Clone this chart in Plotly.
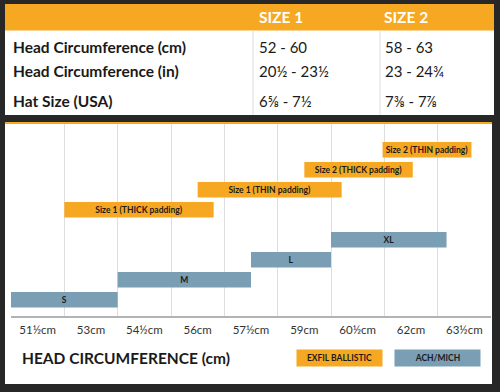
import plotly.graph_objects as go

# ---------------- data ----------------
table_rows = ["Head Circumference (cm)", "Head Circumference (in)", "Hat Size (USA)"]
table_headers = ["SIZE 1", "SIZE 2"]
size1_vals = ["52 - 60", "20½ - 23½", "6⅝ - 7½"]
size2_vals = ["58 - 63", "23 - 24¾", "7⅜ - 7⅞"]

tick_vals = [51.5, 53, 54.5, 56, 57.5, 59, 60.5, 62, 63.5]
tick_labels = ["51½cm", "53cm", "54½cm", "56cm", "57½cm", "59cm", "60½cm", "62cm", "63½cm"]

ach_labels = ["S", "M", "L", "XL"]
ach_start = [50.75, 53.75, 57.5, 59.75]
ach_end = [53.75, 57.5, 59.75, 63.0]

exfil_labels = ["Size 1 (THICK padding)", "Size 1 (THIN padding)",
                "Size 2 (THICK padding)", "Size 2 (THIN padding)"]
exfil_start = [52.25, 56.0, 59.0, 61.2]
exfil_end = [56.45, 60.05, 62.05, 63.7]

# ---------------- style ----------------
W, H = 500, 392
BG = "#272727"
ORANGE = "#F6A823"
BLUE = "#7A9EB4"
TXT = "#1a1a1a"
FONT = "Lato"

def px(x):
    return x / W

def py(y):
    return 1 - y / H

ach_rows = [i for i in range(len(ach_labels))]
exfil_rows = [len(ach_labels) + 0.5 + i for i in range(len(exfil_labels))]

fig = go.Figure()

bar_font = dict(family=FONT, size=8.5, color=TXT, weight="bold")

fig.add_trace(go.Bar(
    orientation="h",
    y=ach_rows,
    base=ach_start,
    x=[e - s for s, e in zip(ach_start, ach_end)],
    text=ach_labels,
    textposition="inside",
    insidetextanchor="middle",
    constraintext="none",
    textangle=0,
    textfont=bar_font,
    marker=dict(color=BLUE, line=dict(width=0)),
    width=0.78,
    name="ACH/MICH",
    hoverinfo="skip",
))
fig.add_trace(go.Bar(
    orientation="h",
    y=exfil_rows,
    base=exfil_start,
    x=[e - s for s, e in zip(exfil_start, exfil_end)],
    text=exfil_labels,
    textposition="inside",
    insidetextanchor="middle",
    constraintext="none",
    textangle=0,
    textfont=bar_font,
    marker=dict(color=ORANGE, line=dict(width=0)),
    width=0.78,
    name="EXFIL BALLISTIC",
    hoverinfo="skip",
))

grid_vals = [v + 0.75 for v in tick_vals[:-1]]

shapes = [
    # table panel
    dict(type="rect", xref="paper", yref="paper", x0=px(5), x1=px(494), y0=py(115), y1=py(4),
         fillcolor="white", line=dict(width=0), layer="below"),
    dict(type="rect", xref="paper", yref="paper", x0=px(5), x1=px(494), y0=py(30.5), y1=py(4),
         fillcolor=ORANGE, line=dict(width=0), layer="below"),
    dict(type="line", xref="paper", yref="paper", x0=px(253), x1=px(253), y0=py(115), y1=py(30.5),
         line=dict(color="#dcdcdc", width=1), layer="below"),
    dict(type="line", xref="paper", yref="paper", x0=px(380), x1=px(380), y0=py(115), y1=py(30.5),
         line=dict(color="#dcdcdc", width=1), layer="below"),
    # chart panel
    dict(type="rect", xref="paper", yref="paper", x0=px(5), x1=px(492), y0=py(384), y1=py(122),
         fillcolor="white", line=dict(width=0), layer="below"),
    dict(type="rect", xref="paper", yref="paper", x0=px(5), x1=px(492), y0=py(124), y1=py(122),
         fillcolor=ORANGE, line=dict(width=0), layer="below"),
]

annotations = []
# table header
for xh, h in zip([257, 382], table_headers):
    annotations.append(dict(xref="paper", yref="paper", x=px(xh), y=py(17.5),
                            xanchor="left", yanchor="middle", showarrow=False,
                            text="<b>%s</b>" % h,
                            font=dict(family=FONT, size=15.5, color="white")))
row_y = [46.5, 71, 101]
for yy, lab, v1, v2 in zip(row_y, table_rows, size1_vals, size2_vals):
    annotations.append(dict(xref="paper", yref="paper", x=px(11), y=py(yy),
                            xanchor="left", yanchor="middle", showarrow=False,
                            text="<b>%s</b>" % lab,
                            font=dict(family=FONT, size=15.5, color=TXT)))
    annotations.append(dict(xref="paper", yref="paper", x=px(257), y=py(yy),
                            xanchor="left", yanchor="middle", showarrow=False,
                            text=v1, font=dict(family=FONT, size=15, color=TXT)))
    annotations.append(dict(xref="paper", yref="paper", x=px(383), y=py(yy),
                            xanchor="left", yanchor="middle", showarrow=False,
                            text=v2, font=dict(family=FONT, size=15, color=TXT)))

annotations += [
    dict(xref="paper", yref="paper", x=px(20), y=py(358), xanchor="left", yanchor="middle",
         text="<b>HEAD CIRCUMFERENCE (cm)</b>", showarrow=False,
         font=dict(family=FONT, size=15.5, color=TXT)),
    dict(xref="paper", yref="paper", x=px(339.5), y=py(358), xanchor="center", yanchor="middle",
         text="<b>EXFIL BALLISTIC</b>", showarrow=False, bgcolor=ORANGE, width=85, height=16,
         borderpad=0, font=dict(family=FONT, size=8.5, color=TXT)),
    dict(xref="paper", yref="paper", x=px(437.5), y=py(358), xanchor="center", yanchor="middle",
         text="<b>ACH/MICH</b>", showarrow=False, bgcolor=BLUE, width=85, height=16,
         borderpad=0, font=dict(family=FONT, size=8.5, color=TXT)),
]

fig.update_layout(
    width=W, height=H,
    margin=dict(l=0, r=0, t=0, b=0),
    paper_bgcolor=BG,
    plot_bgcolor="white",
    showlegend=False,
    barmode="overlay",
    shapes=shapes,
    annotations=annotations,
    font=dict(family=FONT, color=TXT),
    xaxis=dict(
        domain=[px(11), px(491)],
        range=[50.75, 64.25],
        tickmode="array", tickvals=tick_vals, ticktext=tick_labels,
        showgrid=False, zeroline=False,
        showline=True, linecolor="#b3b3b3", linewidth=1.5,
        ticks="", ticklabelstandoff=2,
        tickfont=dict(family=FONT, size=11.5, color="#333333"),
        minor=dict(tickmode="array", tickvals=grid_vals, showgrid=True,
                   gridcolor="#dedede", gridwidth=1, ticks=""),
        fixedrange=True,
    ),
    yaxis=dict(
        domain=[py(316), py(124)],
        range=[-0.815, 8.785],
        showgrid=False, zeroline=False, showticklabels=False, ticks="",
        fixedrange=True,
    ),
)

fig.write_html("out.html", config={"displayModeBar": False},
               post_script="document.body.style.margin='0';document.body.style.overflow='hidden';")
